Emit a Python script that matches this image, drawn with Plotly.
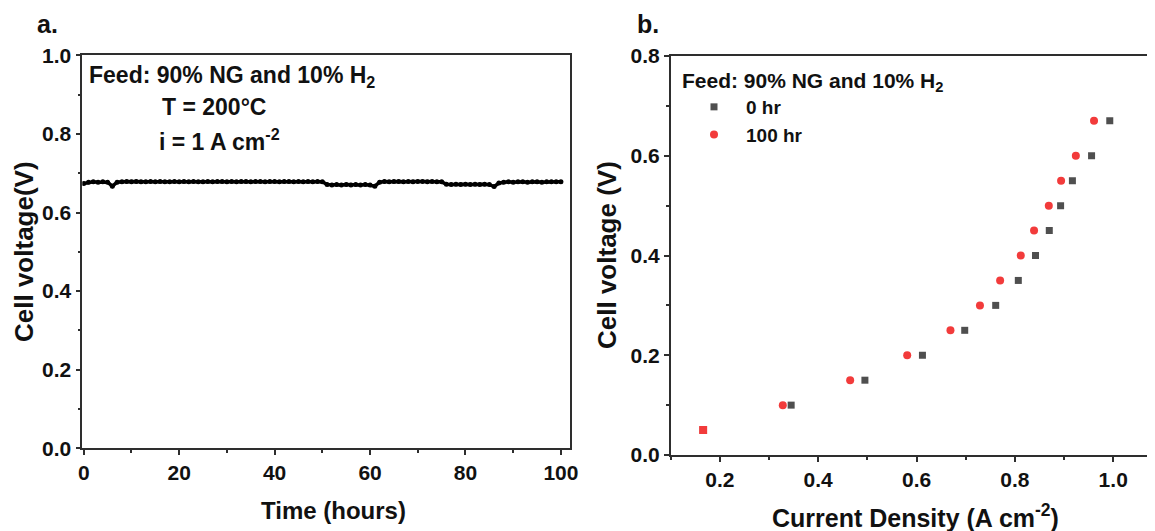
import plotly.graph_objects as go

# ---------------- Data ----------------
# Panel a: stability test
time_h = list(range(0, 101))
cell_v_time = [
    0.674, 0.677, 0.678, 0.677, 0.678, 0.677, 0.667, 0.677, 0.678, 0.679,
    0.678, 0.679, 0.678, 0.678, 0.679, 0.678, 0.679, 0.678, 0.678, 0.679,
    0.678, 0.679, 0.678, 0.679, 0.678, 0.678, 0.679, 0.678, 0.679, 0.679,
    0.678, 0.679, 0.678, 0.679, 0.679, 0.678, 0.679, 0.679, 0.678, 0.679,
    0.679, 0.678, 0.679, 0.679, 0.678, 0.679, 0.678, 0.679, 0.678, 0.679,
    0.678, 0.671, 0.670, 0.671, 0.670, 0.671, 0.670, 0.671, 0.670, 0.671,
    0.670, 0.667, 0.677, 0.679, 0.678, 0.679, 0.679, 0.678, 0.679, 0.678,
    0.679, 0.679, 0.678, 0.679, 0.678, 0.678, 0.672, 0.671, 0.672, 0.671,
    0.672, 0.671, 0.672, 0.671, 0.672, 0.671, 0.666, 0.675, 0.677, 0.678,
    0.677, 0.678, 0.678, 0.677, 0.678, 0.678, 0.677, 0.678, 0.678, 0.678,
    0.678,
]

# Panel b: polarization
v_levels = [0.05, 0.10, 0.15, 0.20, 0.25, 0.30, 0.35, 0.40, 0.45, 0.50, 0.55, 0.60, 0.67]
i_0hr = [0.166, 0.345, 0.495, 0.612, 0.698, 0.761, 0.807, 0.842, 0.870, 0.893, 0.917, 0.956, 0.993]
i_100hr = [0.166, 0.328, 0.465, 0.581, 0.669, 0.729, 0.770, 0.812, 0.839, 0.869, 0.894, 0.924, 0.961]
legend_names = ["0 hr", "100 hr"]

FONT = "Liberation Sans, Arial, sans-serif"
TXT = "#111111"
AX = "#2e2e2e"
GRAY = "#4f4f4f"
RED = "#f23b3b"

fig = go.Figure()

fig.add_trace(go.Scatter(
    x=time_h, y=cell_v_time, mode="lines+markers",
    line=dict(color="black", width=3.5),
    marker=dict(color="black", size=5),
    showlegend=False, xaxis="x", yaxis="y",
))

fig.add_trace(go.Scatter(
    x=i_0hr, y=v_levels, mode="markers", name=legend_names[0],
    marker=dict(color=GRAY, symbol="square", size=7),
    xaxis="x2", yaxis="y2",
))
fig.add_trace(go.Scatter(
    x=i_100hr[1:], y=v_levels[1:], mode="markers", name=legend_names[1],
    marker=dict(color=RED, size=8, symbol="circle"),
    xaxis="x2", yaxis="y2",
))
# the overlapping first point is drawn as a red square in the reference
fig.add_trace(go.Scatter(
    x=i_100hr[:1], y=v_levels[:1], mode="markers", showlegend=False,
    marker=dict(color=RED, size=8, symbol="square"),
    xaxis="x2", yaxis="y2",
))

# page body has an 8px margin: the figure is placed at (8, 8) in the window
OFF = 8
W, H = 1155 - OFF, 531 - OFF

def px(x):
    return (x - OFF) / W

def py(y):
    return 1 - (y - OFF) / H

tickfont = dict(family=FONT, size=21, color=TXT, weight="bold")
common = dict(showline=True, linecolor=AX, linewidth=1.6, ticks="outside",
              ticklen=5, tickwidth=1.5, tickcolor=AX, showgrid=False,
              zeroline=False, tickfont=tickfont, automargin=False)

fig.update_layout(
    width=W, height=H,
    margin=dict(l=0, r=0, t=0, b=0, autoexpand=False),
    paper_bgcolor="white", plot_bgcolor="white",
    xaxis=dict(domain=[px(82.3), px(570)], range=[-0.3, 101.9],
               tickvals=[0, 20, 40, 60, 80, 100], mirror=True,
               minor=dict(dtick=10, tick0=0, ticklen=3, tickcolor=AX, ticks="outside"),
               anchor="y", **common),
    yaxis=dict(domain=[py(448.3), py(55.3)], range=[0, 1.0],
               tickvals=[0, 0.2, 0.4, 0.6, 0.8, 1.0], tickformat=".1f", mirror=True,
               minor=dict(dtick=0.1, tick0=0, ticklen=3, tickcolor=AX, ticks="outside"),
               anchor="x", **common),
    xaxis2=dict(domain=[px(670.7), 1.0], range=[0.1, 1.085],
                tickvals=[0.2, 0.4, 0.6, 0.8, 1.0], tickformat=".1f", mirror=True,
                minor=dict(dtick=0.1, tick0=0.1, ticklen=3, tickcolor=AX, ticks="outside"),
                anchor="y2", **common),
    yaxis2=dict(domain=[py(455), py(56)], range=[0, 0.8],
                tickvals=[0, 0.2, 0.4, 0.6, 0.8], tickformat=".1f",
                minor=dict(dtick=0.1, tick0=0, ticklen=3, tickcolor=AX, ticks="outside"),
                anchor="x2", **common),
    legend=dict(x=px(682), y=py(88), xanchor="left", yanchor="top",
                font=dict(family=FONT, size=19, color=TXT, weight="bold"),
                bgcolor="rgba(0,0,0,0)", itemwidth=54, tracegroupgap=0),
)

def ann(text, x, y, size=19, xanchor="left", angle=0):
    fig.add_annotation(text=text, x=px(x), y=py(y), xref="paper", yref="paper",
                       showarrow=False, xanchor=xanchor, yanchor="middle",
                       textangle=angle,
                       font=dict(family=FONT, size=size, color=TXT, weight="bold"))

# panel labels
ann("a.", 35, 24, size=25)
ann("b.", 635, 24, size=25)

# panel a text
ann("Feed: 90% NG and 10% H<sub>2</sub>", 87, 77, size=23)
ann("T = 200°C", 160, 107, size=23)
ann("i = 1 A cm<sup>-2</sup>", 157, 140, size=23)

# panel b text
ann("Feed: 90% NG and 10% H<sub>2</sub>", 680, 82, size=21)

# axis titles
ann("Time (hours)", 333, 510, size=24, xanchor="center")
ann("Cell voltage(V)", 24, 252, size=26, xanchor="center", angle=-90)
ann("Current Density (A cm<sup>-2</sup>)", 915, 516, size=25, xanchor="center")
ann("Cell voltage (V)", 607, 255, size=26, xanchor="center", angle=-90)

fig.write_html("out.html")
